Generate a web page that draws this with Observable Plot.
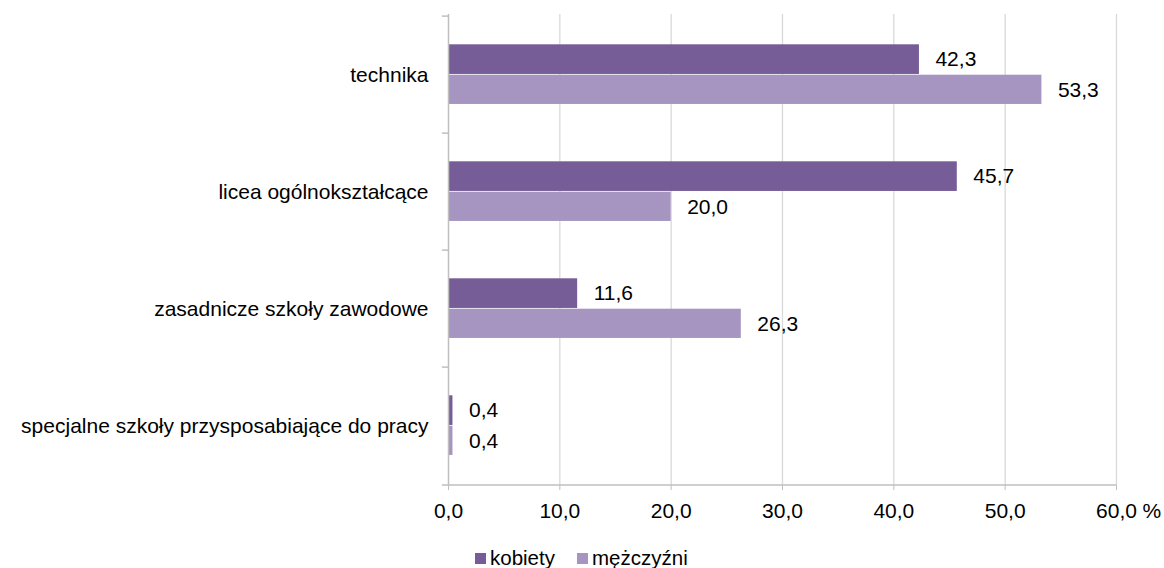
<!DOCTYPE html>
<html><head><meta charset="utf-8">
<script src="https://cdn.jsdelivr.net/npm/d3@7"></script>
<script src="https://cdn.jsdelivr.net/npm/@observablehq/plot@0.6"></script>
<style>
body{margin:0;background:#fff;font-family:"Liberation Sans",Arial,sans-serif;}
#wrap{position:relative;width:1164px;height:568px;overflow:hidden;}
#legend{position:absolute;top:546px;left:0;height:22px;font-size:20.5px;color:#000;}
.sw{position:absolute;top:7px;width:11px;height:11px;}
.lt{position:absolute;top:1px;line-height:22px;white-space:nowrap;}
</style></head><body><div id="wrap"><div id="chart"></div><div id="legend"></div></div>
<script>
const categories = ["technika", "licea ogólnokształcące", "zasadnicze szkoły zawodowe", "specjalne szkoły przysposabiające do pracy"];
const seriesNames = ["kobiety", "mężczyźni"];
const kobiety = [42.3, 45.7, 11.6, 0.4];
const mezczyzni = [53.3, 20.0, 26.3, 0.4];
const xTicks = [0, 10, 20, 30, 40, 50, 60];
const colors = ["#775D97", "#A595C0"];

const fmt = v => v.toFixed(1).replace(".", ",");
const kData = categories.map((c, i) => ({cat: c, v: kobiety[i]}));
const mData = categories.map((c, i) => ({cat: c, v: mezczyzni[i]}));
const H = 540, mt = 14, mb = 55;
const band = (H - mt - mb) / categories.length;

const plot = Plot.plot({
  width: 1164, height: H,
  marginLeft: 448, marginRight: 48, marginTop: mt, marginBottom: mb,
  style: {fontSize: "21px", fontFamily: "'Liberation Sans', Arial, sans-serif", color: "#000", background: "#fff"},
  x: {domain: [0, 60]},
  y: {type: "band", domain: categories, padding: 0},
  marks: [
    Plot.ruleX(xTicks.filter(d => d > 0), {stroke: "#D9D9D9", strokeWidth: 1.3}),
    Plot.barX(kData, {x: "v", y: "cat", fill: colors[0], insetTop: 28.3, insetBottom: band - 58.7}),
    Plot.barX(mData, {x: "v", y: "cat", fill: colors[1], insetTop: 58.7, insetBottom: band - 88.7}),
    Plot.text(kData, {x: "v", y: "cat", text: d => fmt(d.v), dx: 16, dy: -15.4, textAnchor: "start", fill: "#000"}),
    Plot.text(mData, {x: "v", y: "cat", text: d => fmt(d.v), dx: 16, dy: 14.8, textAnchor: "start", fill: "#000"}),
    Plot.ruleX([0], {stroke: "#BFBFBF", strokeWidth: 1.5}),
    Plot.ruleY(categories, {y: d => d, x1: -0.55, x2: 0, dy: -band / 2, stroke: "#BFBFBF", strokeWidth: 1.5}),
    Plot.ruleY([categories[categories.length - 1]], {y: d => d, x1: -0.55, x2: 60, dy: band / 2, stroke: "#BFBFBF", strokeWidth: 1.5}),
    Plot.axisX(xTicks, {tickSize: 5, tickPadding: 13, stroke: "#BFBFBF", fill: "#000", tickFormat: fmt, label: null}),
    Plot.text([60], {x: d => d, frameAnchor: "bottom", lineAnchor: "top", dy: 18, dx: 26, text: () => "%", textAnchor: "start", fill: "#000"}),
    Plot.axisY({tickSize: 0, tickPadding: 20, label: null, fill: "#000"})
  ]
});
document.getElementById("chart").appendChild(plot);

const legend = document.getElementById("legend");
const swX = [475, 577];
const txX = [490, 592];
seriesNames.forEach((s, i) => {
  const sw = document.createElement("div");
  sw.className = "sw"; sw.style.left = swX[i] + "px"; sw.style.background = colors[i];
  legend.appendChild(sw);
  const t = document.createElement("div");
  t.className = "lt"; t.style.left = txX[i] + "px"; t.textContent = s;
  legend.appendChild(t);
});
</script></body></html>
